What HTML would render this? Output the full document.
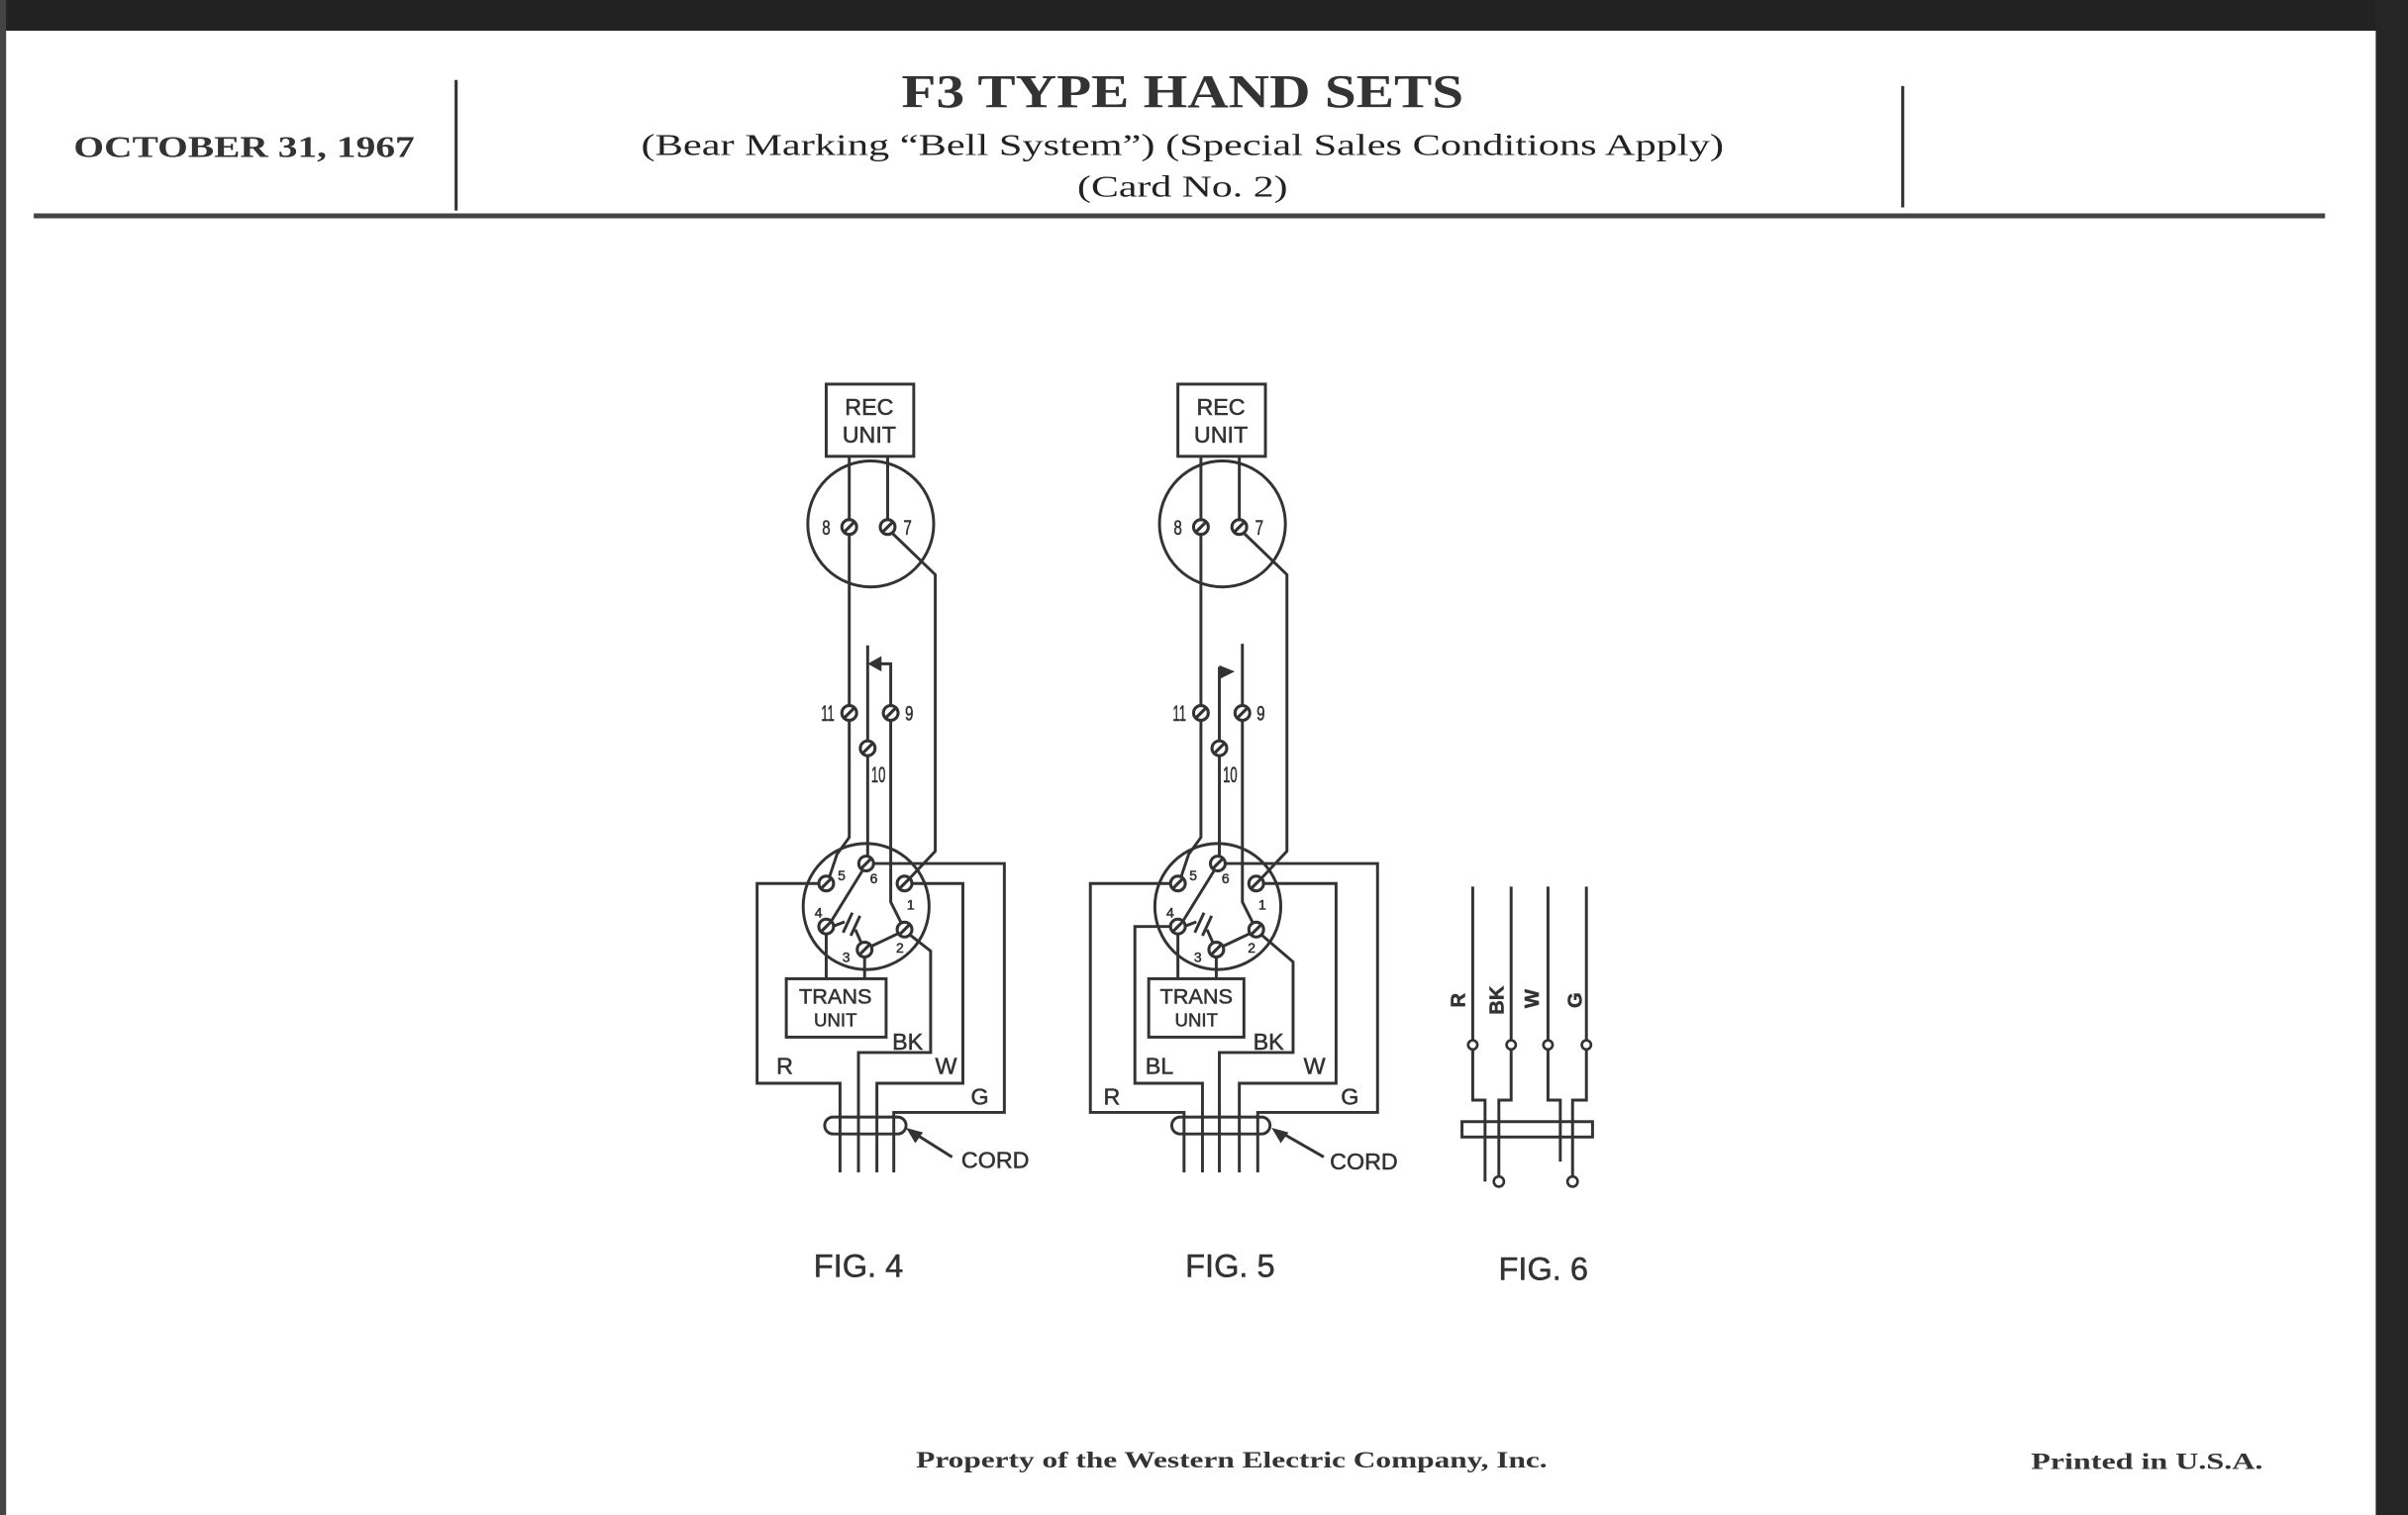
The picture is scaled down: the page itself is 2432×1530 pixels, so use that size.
<!DOCTYPE html>
<html><head><meta charset="utf-8"><style>
html,body{margin:0;padding:0;background:#fff;}
svg{display:block;}
.s{font-family:"Liberation Serif",serif;font-weight:bold;fill:#333;}
.a{font-family:"Liberation Sans",sans-serif;fill:#333;stroke:#333;stroke-width:0.35;}
</style></head><body>
<svg width="2432" height="1530" viewBox="0 0 1568 986" preserveAspectRatio="none" xmlns="http://www.w3.org/2000/svg">
<defs>
<g id="t"><circle r="4.8" fill="#fff" stroke="#333" stroke-width="2"/><line x1="-3.4" y1="3.4" x2="3.4" y2="-3.4" stroke="#333" stroke-width="2"/></g>
</defs>
<rect x="0" y="0" width="1568" height="986" fill="#fff"/>
<rect x="0" y="0" width="1568" height="20" fill="#222"/>
<rect x="1547" y="0" width="21" height="986" fill="#262626"/>
<rect x="0" y="0" width="4" height="986" fill="#444"/>

<!-- header -->
<line x1="297" y1="52" x2="297" y2="137" stroke="#333" stroke-width="2"/>
<line x1="1239" y1="56" x2="1239" y2="135" stroke="#333" stroke-width="2"/>
<line x1="22" y1="140.5" x2="1514" y2="140.5" stroke="#444" stroke-width="3.2"/>
<text class="s" x="770" y="70" font-size="31" text-anchor="middle" textLength="366" lengthAdjust="spacingAndGlyphs">F3 TYPE HAND SETS</text>
<text class="s" x="159" y="102" font-size="20" text-anchor="middle" textLength="222" lengthAdjust="spacingAndGlyphs">OCTOBER 31, 1967</text>
<text class="s" x="770" y="101" font-size="20" text-anchor="middle" textLength="705" lengthAdjust="spacingAndGlyphs" style="font-weight:normal;fill:#222">(Bear Marking “Bell System”) (Special Sales Conditions Apply)</text>
<text class="s" x="770" y="128" font-size="20" text-anchor="middle" textLength="137" lengthAdjust="spacingAndGlyphs" style="font-weight:normal;fill:#222">(Card No. 2)</text>

<!-- footer -->
<text class="s" x="802" y="955" font-size="15" text-anchor="middle" textLength="411" lengthAdjust="spacingAndGlyphs">Property of the Western Electric Company, Inc.</text>
<text class="s" x="1398" y="956" font-size="15" text-anchor="middle" textLength="151" lengthAdjust="spacingAndGlyphs">Printed in U.S.A.</text>

<!-- common figure part -->
<g id="fig" fill="none" stroke="#333" stroke-width="1.9">
  <rect x="538" y="250" width="57" height="47"/>
  <circle cx="567" cy="341" r="41"/>
  <path d="M553 297V339M578 297V339"/>
  <path d="M553 347V545L545 556L540 571"/>
  <path d="M580 346L609 374V554L592 572"/>
  <path d="M580 468V587L587 601"/>
  <path d="M565 491V558"/>
  <circle cx="564" cy="590" r="41"/>
  <path d="M562 566L541 600"/>
  <path d="M542 603L550 600"/>
  <path d="M549 607L555 594M554 609L560 596"/>
  <path d="M561 614L557 605"/>
  <path d="M567 616L586 607"/>
  <path d="M538 607V637M563 622V637"/>
  <g fill="#333" class="a">
    <text x="566" y="270" font-size="15" text-anchor="middle">REC</text>
    <text x="566" y="288" font-size="15" text-anchor="middle">UNIT</text>
    <text x="538" y="348" font-size="14" text-anchor="middle" transform="translate(538 348) scale(0.7 1) translate(-538 -348)">8</text>
    <text x="591" y="348" font-size="14" text-anchor="middle" transform="translate(591 348) scale(0.7 1) translate(-591 -348)">7</text>
    <text x="539" y="469" font-size="14" text-anchor="middle" transform="translate(539 469) scale(0.6 1) translate(-539 -469)">11</text>
    <text x="592" y="469" font-size="14" text-anchor="middle" transform="translate(592 469) scale(0.7 1) translate(-592 -469)">9</text>
    <text x="572" y="509" font-size="14" text-anchor="middle" transform="translate(572 509) scale(0.6 1) translate(-572 -509)">10</text>
    <text x="548" y="573" font-size="9" text-anchor="middle">5</text>
    <text x="569" y="575" font-size="9" text-anchor="middle">6</text>
    <text x="593" y="592" font-size="9" text-anchor="middle">1</text>
    <text x="533" y="597" font-size="9" text-anchor="middle">4</text>
    <text x="551" y="626" font-size="9" text-anchor="middle">3</text>
    <text x="586" y="620" font-size="9" text-anchor="middle">2</text>
  </g>
  <g stroke="none">
    <use href="#t" x="553" y="343"/><use href="#t" x="578" y="343"/>
    <use href="#t" x="553" y="464"/><use href="#t" x="580" y="464"/><use href="#t" x="565" y="487"/>
    <use href="#t" x="564" y="562"/><use href="#t" x="538" y="575"/><use href="#t" x="589" y="575"/>
    <use href="#t" x="538" y="603"/><use href="#t" x="589" y="605"/><use href="#t" x="563" y="618"/>
  </g>
</g>
<use href="#fig" x="229" y="0"/>

<!-- FIG 4 specifics -->
<g fill="none" stroke="#333" stroke-width="1.9">
  <path d="M565 420V482"/>
  <path d="M580 459V432H570"/>
  <path d="M569 562H654V724H582V763"/>
  <path d="M594 575H627V705H571V763"/>
  <path d="M592 608L606 619V685H559V763"/>
  <path d="M533 575H493V705H547V763"/>
  <rect x="512" y="637" width="65" height="38" fill="#fff"/>
  <rect x="537" y="727" width="53" height="11" rx="5.5"/>
  <path d="M620 753L596 738"/>
</g>
<polygon points="565,432 574,427 574,437" fill="#333"/>
<polygon points="590,734 601,737 596,744" fill="#333"/>
<g class="a">
  <text x="544" y="653" font-size="14" text-anchor="middle">TRANS</text>
  <text x="544" y="668" font-size="12" text-anchor="middle">UNIT</text>
  <text x="511" y="699" font-size="15" text-anchor="middle">R</text>
  <text x="591" y="683" font-size="15" text-anchor="middle">BK</text>
  <text x="616" y="699" font-size="15" text-anchor="middle">W</text>
  <text x="638" y="719" font-size="15" text-anchor="middle">G</text>
  <text x="626" y="760" font-size="15">CORD</text>
  <text x="559" y="831" font-size="21" text-anchor="middle">FIG. 4</text>
</g>

<!-- FIG 5 specifics -->
<g fill="none" stroke="#333" stroke-width="1.9">
  <path d="M794 434V482"/>
  <path d="M809 419V459"/>
  <path d="M798 562H897V724H819V763"/>
  <path d="M823 575H870V705H807V763"/>
  <path d="M821 608L842 626V685H794V763"/>
  <path d="M762 575H710V724H771V763"/>
  <path d="M762 603H739V705H783V763"/>
  <rect x="748" y="637" width="62" height="38" fill="#fff"/>
  <rect x="763" y="727" width="64" height="11" rx="5.5"/>
  <path d="M862 753L834 737"/>
</g>
<polygon points="794,433 804,437 794,442" fill="#333"/>
<polygon points="828,734 839,737 834,744" fill="#333"/>
<g class="a">
  <text x="779" y="653" font-size="14" text-anchor="middle">TRANS</text>
  <text x="779" y="668" font-size="12" text-anchor="middle">UNIT</text>
  <text x="724" y="719" font-size="15" text-anchor="middle">R</text>
  <text x="755" y="699" font-size="15" text-anchor="middle">BL</text>
  <text x="826" y="683" font-size="15" text-anchor="middle">BK</text>
  <text x="856" y="699" font-size="15" text-anchor="middle">W</text>
  <text x="879" y="719" font-size="15" text-anchor="middle">G</text>
  <text x="866" y="761" font-size="15">CORD</text>
  <text x="801" y="831" font-size="21" text-anchor="middle">FIG. 5</text>
</g>

<!-- FIG 6 -->
<g fill="none" stroke="#333" stroke-width="1.9">
  <path d="M959 577V677M959 683V716H967V769"/>
  <path d="M984 577V677M984 683V716H976V766"/>
  <path d="M1008 577V677M1008 683V716H1016V756"/>
  <path d="M1033 577V677M1033 683V716H1024V766"/>
  <rect x="952" y="730" width="85" height="10" fill="none"/>
</g>
<g fill="#fff" stroke="#333" stroke-width="1.7">
  <circle cx="959" cy="680" r="3"/><circle cx="984" cy="680" r="3"/>
  <circle cx="1008" cy="680" r="3"/><circle cx="1033" cy="680" r="3"/>
  <circle cx="976" cy="769" r="3.3"/><circle cx="1024" cy="769" r="3.3"/>
</g>
<g class="a" font-size="13" font-weight="bold">
  <text transform="translate(954 651) rotate(-90)" text-anchor="middle">R</text>
  <text transform="translate(979 651) rotate(-90)" text-anchor="middle">BK</text>
  <text transform="translate(1002 650) rotate(-90)" text-anchor="middle">W</text>
  <text transform="translate(1030 651) rotate(-90)" text-anchor="middle">G</text>
</g>
<text class="a" x="1005" y="833" font-size="21" text-anchor="middle">FIG. 6</text>
</svg>
</body></html>
